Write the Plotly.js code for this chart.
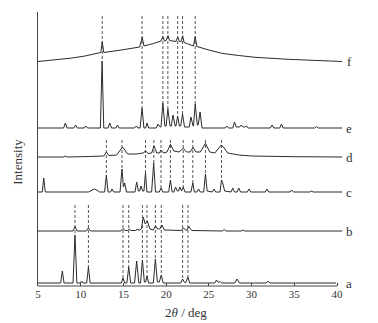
<!DOCTYPE html>
<html>
<head>
<meta charset="utf-8">
<script src="https://cdn.plot.ly/plotly-3.0.1.min.js"></script>
<style>html,body{margin:0;padding:0;background:#fff;}#chart{width:378px;height:323px;}</style>
</head>
<body>
<div id="chart"></div>
<script>
// ---- data (2θ in degrees, intensity in arbitrary units above each pattern's own baseline) ----
const seriesNames = ["a", "b", "c", "d", "e", "f"];
const baselineOffsets = [3, 55, 94, 129, 158, 224.5];

const a_x = [5, 7.65, 7.85, 8.05, 9.1, 9.33, 9.55, 9.95, 10.1, 10.25, 10.7, 10.9, 11.1, 14.75, 14.95, 15.15, 15.4, 15.62, 15.85, 16.3, 16.55, 16.8, 17.0, 17.22, 17.45, 17.6, 17.76, 17.95, 18.5, 18.74, 18.97, 19.2, 19.43, 19.65, 21.7, 21.93, 22.15, 22.3, 22.55, 22.75, 25.7, 25.9, 26.1, 26.3, 26.5, 28.05, 28.3, 28.6, 31.7, 31.9, 32.1, 39.9];
const a_y = [0, 0, 12, 0, 0, 48, 0, 0, 2, 0, 0, 16, 0, 0, 5, 0, 0, 16, 0, 0, 22, 0, 0, 23, 1, 1, 7, 0, 0, 24, 1, 1, 8, 0, 0, 4, 0.5, 0.5, 6, 0, 0, 3, 0.5, 1.5, 0, 0, 4, 0, 0, 2, 0, 0];

const b_x = [5, 9.1, 9.33, 9.6, 10.65, 10.9, 11.15, 14.7, 14.95, 15.2, 15.5, 15.7, 15.9, 16.4, 16.6, 16.9, 17.1, 17.32, 17.55, 17.8, 18.1, 18.5, 18.75, 19.0, 19.25, 19.5, 19.8, 21.8, 22.0, 22.3, 22.45, 22.65, 23.0, 26.6, 26.8, 27.0, 28.8, 29.0, 29.2, 40.6];
const b_y = [0, 0, 4.5, 0, 0, 3, 0, 0, 2.5, 0.5, 0.5, 2, 0.5, 0.5, 1.5, 1, 2, 14, 7, 10, 2, 1, 5, 2, 2, 6, 1, 0.5, 3, 1, 1, 4.5, 0.5, 0, 1.5, 0, 0, 1, 0, 0];

const c_x = [5, 5.5, 5.67, 5.85, 10.9, 11.3, 11.6, 11.9, 12.2, 12.8, 13.0, 13.2, 13.5, 13.66, 13.85, 14.6, 14.83, 15.0, 15.15, 15.35, 16.35, 16.55, 16.75, 16.9, 17.05, 17.25, 17.4, 17.58, 17.75, 18.3, 18.54, 18.75, 19.2, 19.4, 19.6, 20.3, 20.5, 20.7, 20.9, 21.1, 21.3, 21.45, 21.6, 21.8, 22.0, 22.2, 22.9, 23.12, 23.3, 23.6, 23.8, 24.0, 24.4, 24.6, 24.8, 25.4, 25.6, 25.8, 26.3, 26.48, 26.65, 26.85, 27.6, 27.8, 28.0, 28.3, 28.5, 28.7, 29.5, 29.7, 29.9, 31.6, 31.8, 32.0, 34.5, 34.7, 34.9, 36.8, 37.0, 37.2, 40.6];
const c_y = [0, 0, 14, 0, 0, 2, 3, 2, 0, 0, 17, 0, 0, 3, 0, 0, 23, 5, 9, 0, 0, 10, 1, 1, 6, 1, 1, 19, 0, 0, 29, 0, 0, 4, 0, 0, 12, 0, 0, 5, 1, 1, 5, 1, 5, 0, 0, 9, 0, 0, 3, 0, 0, 18, 1, 0, 3, 0, 0, 12, 8, 1, 0, 4, 0, 0, 4, 0, 0, 3, 0, 0, 3, 0, 0, 2, 0, 0, 1, 0, 0];

const d_x = [5, 8.0, 8.2, 8.4, 11.0, 12.7, 13.0, 13.3, 14.2, 14.9, 15.5, 16.5, 17.3, 17.6, 17.9, 18.3, 18.58, 18.9, 19.2, 19.4, 19.7, 20.1, 20.5, 20.9, 21.5, 22.0, 22.4, 22.8, 23.15, 23.5, 24.0, 24.6, 25.1, 25.7, 26.45, 26.8, 27.2, 27.8, 28.5, 30.0, 31.8, 35.0, 40.6];
const d_y = [0, 0, 1, 0, 0.5, 1, 5, 1.5, 2, 10, 3, 3, 4, 6, 3.5, 4, 11, 4, 4, 7, 4, 5, 12.7, 6, 5, 8.7, 5, 5, 9.5, 5, 5, 13.7, 5, 4, 12, 9, 4, 3, 2, 1, 1, 0.3, 0];

const e_x = [5, 8.0, 8.2, 8.4, 9.2, 9.4, 9.6, 10.4, 10.6, 10.8, 12.3, 12.5, 12.7, 13.2, 13.4, 13.6, 14.1, 14.3, 14.5, 16.3, 16.5, 16.7, 16.95, 17.18, 17.4, 17.6, 17.76, 17.95, 18.85, 19.05, 19.3, 19.4, 19.62, 19.85, 20.0, 20.2, 20.45, 20.6, 20.8, 21.05, 21.15, 21.35, 21.55, 21.7, 21.92, 22.15, 22.7, 22.9, 23.15, 23.2, 23.4, 23.65, 23.75, 23.97, 24.2, 26.9, 27.1, 27.3, 27.8, 28.0, 28.2, 28.6, 28.8, 29.0, 29.2, 29.4, 29.6, 32.2, 32.4, 32.6, 33.3, 33.5, 33.7, 37.4, 37.6, 37.8, 40.6];
const e_y = [0, 0, 5, 0, 0, 3, 0, 0, 2, 0, 0, 67, 0, 0, 5, 0, 0, 3, 0, 0, 2, 0, 0, 20, 0, 0, 5, 0, 0, 4, 1, 1, 25, 2, 2, 19, 2, 2, 13, 2, 2, 12, 2, 2, 14, 1, 1, 11, 2, 2, 24, 3, 3, 16, 0, 0, 2, 0, 0, 6, 1, 1, 3, 1, 1, 2, 0, 0, 3, 0, 0, 4, 0, 0, 1.5, 0, 0];

const f_x = [5, 7.0, 8.9, 10.5, 12.2, 12.35, 12.52, 12.7, 14.75, 16.9, 17.2, 17.4, 18.5, 19.4, 19.62, 19.8, 20.0, 20.22, 20.4, 21.15, 21.35, 21.55, 21.75, 21.93, 22.1, 23.2, 23.4, 23.6, 25.0, 26.5, 28.5, 30.4, 34.3, 37.0, 40.6];
const f_y = [0, 1.5, 3.4, 5.5, 8.2, 9, 19.8, 9, 11.5, 14.5, 24.2, 15.5, 18, 20.5, 24.8, 20.5, 21, 25.8, 21, 20, 24.5, 20, 20, 25.8, 19, 15.5, 24.8, 15, 11.5, 8.2, 6, 4.2, 2.2, 1, 0];

// reference (dashed) lines: peak positions marked, 2θ in degrees
const marks_ef = [12.52, 17.18, 19.62, 20.2, 21.35, 21.92, 23.4];
const marks_cd = [13.0, 14.83, 17.58, 18.56, 19.4, 20.5, 22.0, 23.12, 24.6, 26.48];
const marks_ab = [9.33, 10.9, 14.95, 15.62, 17.22, 17.76, 18.74, 19.43, 21.93, 22.55];

// ---- build ----
const Y_MAX = 274;
const xs = [a_x, b_x, c_x, d_x, e_x, f_x];
const ys = [a_y, b_y, c_y, d_y, e_y, f_y];
const lineColor = "#2b2b2b";
const traces = [];
for (let i = 0; i < xs.length; i++) {
  traces.push({
    x: xs[i],
    y: ys[i].map(v => v + baselineOffsets[i]),
    type: "scatter", mode: "lines",
    line: {color: lineColor, width: 1},
    hoverinfo: "skip", showlegend: false
  });
}
function peakTop(idx, x) {
  let best = 0;
  xs[idx].forEach((px, k) => { if (Math.abs(px - x) <= 0.12) best = Math.max(best, ys[idx][k]); });
  return best + baselineOffsets[idx];
}
function dashTrace(marks, topY, idx) {
  const dx = [], dy = [];
  marks.forEach(m => { dx.push(m, m, null); dy.push(topY, peakTop(idx, m), null); });
  return {x: dx, y: dy, type: "scatter", mode: "lines", connectgaps: false,
          line: {color: "#555", width: 1, dash: "3px,2px"}, hoverinfo: "skip", showlegend: false};
}
traces.unshift(dashTrace(marks_ef, 270, 4));
traces.unshift(dashTrace(marks_cd, 146, 2));
traces.unshift(dashTrace(marks_ab, 81, 0));

const serif = "Liberation Serif, Times New Roman, serif";
const textFont = {family: serif, size: 13, color: "#333"};
const annotations = seriesNames.map((n, i) => ({
  x: 1.02, y: baselineOffsets[i] / Y_MAX, xref: "paper", yref: "paper", text: n, showarrow: false,
  xanchor: "center", yanchor: "middle", font: textFont
}));
annotations.push({x: 0.485, y: -0.095, xref: "paper", yref: "paper", text: "2<i>θ</i> / deg", showarrow: false,
  xanchor: "center", yanchor: "middle", font: textFont});
annotations.push({x: -0.066, y: 0.453, xref: "paper", yref: "paper", text: "Intensity", showarrow: false, textangle: -90,
  xanchor: "center", yanchor: "middle", font: textFont});

const layout = {
  width: 378, height: 323,
  margin: {l: 38, r: 35, t: 12, b: 37, pad: 0},
  paper_bgcolor: "#fff", plot_bgcolor: "#fff",
  showlegend: false,
  xaxis: {range: [5, 40.7], tickvals: [5, 10, 15, 20, 25, 30, 35, 40], ticktext: ["5", "10", "15", "20", "25", "30", "35", "40"],
          showgrid: false, zeroline: false, showline: false, ticks: "inside", ticklen: 3, tickcolor: "#444",
          tickfont: {family: serif, size: 11, color: "#333"}, fixedrange: true},
  yaxis: {range: [0, Y_MAX], showgrid: false, zeroline: false, showline: true, linecolor: "#444", linewidth: 1,
          showticklabels: false, ticks: "", fixedrange: true},
  shapes: [{type: "line", xref: "x", yref: "paper", x0: 5, x1: 40, y0: 0, y1: 0, line: {color: "#444", width: 1}}],
  annotations: annotations
};
Plotly.newPlot("chart", traces, layout, {staticPlot: true, displayModeBar: false});
</script>
</body>
</html>
